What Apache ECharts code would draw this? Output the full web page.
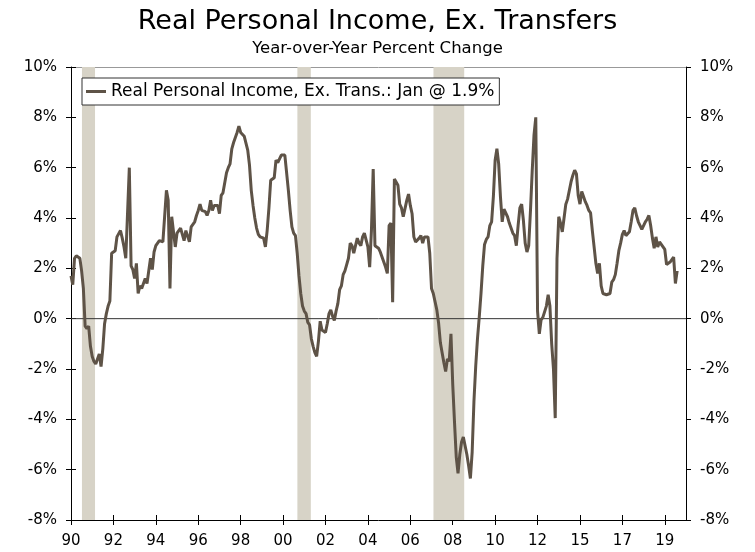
<!DOCTYPE html>
<html>
<head>
<meta charset="utf-8">
<script src="https://cdn.jsdelivr.net/npm/echarts@6/dist/echarts.min.js"></script>
<style>
html, body { margin: 0; padding: 0; background: #fff; }
#chart { width: 755px; height: 552px; }
</style>
</head>
<body>
<div id="chart"></div>
<script>
// year-over-year % change, monthly from Jan 1990
var values1990s = [
	1.7, 1.35, 2.4, 2.5, 2.45, 2.4, 1.9, 1.2, -0.3, -0.4, -0.3, -1.1,
	-1.5, -1.7, -1.8, -1.6, -1.4, -1.9, -1.2, -0.2, 0.2, 0.5, 0.7, 2.6,
	2.65, 2.7, 3.25, 3.3, 3.5, 3.2, 2.85, 2.4, 2.45, 6.0, 2.1, 1.95,
	1.6, 2.2, 1.0, 1.3, 1.2, 1.25, 1.6, 1.4, 1.35, 2.4, 1.95, 2.65,
	2.9, 3.0, 3.1, 3.1, 3.05, 3.0, 5.1, 4.7, 1.2, 4.05, 4.05, 2.85,
	3.4, 3.5, 3.6, 3.6, 3.1, 3.5, 3.45, 3.05, 3.65, 3.75, 3.85, 4.1,
	4.3, 4.55, 4.3, 4.35, 4.25, 4.1, 4.3, 4.7, 4.3, 4.5, 4.5, 4.5,
	4.17, 4.9, 5.0, 5.0, 5.8, 6.0, 6.15, 6.75, 7.0, 7.2, 7.4, 7.65,
	7.4, 7.35, 7.25, 7.2, 6.7, 6.1, 5.1, 4.5, 4.0, 3.6, 3.35, 3.25,
	3.2, 3.2, 2.85, 3.5, 4.4, 5.5, 5.55, 5.6, 6.3, 6.2, 6.15, 6.5
];
var values2000s = [
	6.55, 6.5, 5.8, 5.1, 4.3, 3.65, 3.4, 3.3, 2.6, 1.7, 1.0, 0.5,
	0.3, 0.2, -0.15, -0.25, -0.8, -1.1, -1.35, -1.5, -0.9, -0.1, -0.45, -0.5,
	-0.55, -0.2, 0.2, 0.35, 0.1, -0.07, 0.3, 0.6, 1.15, 1.3, 1.75, 1.9,
	2.15, 2.4, 3.0, 2.9, 2.6, 2.9, 3.2, 3.0, 2.9, 3.25, 3.4, 3.45,
	2.85, 2.05, 3.5, 5.95, 2.9, 2.85, 2.8, 2.65, 2.7, 2.25, 2.05, 1.8,
	3.7, 3.8, 0.65, 5.55, 5.5, 5.3, 4.55, 4.4, 4.05, 4.05, 4.7, 4.95,
	4.5, 4.17, 3.25, 3.05, 3.05, 3.2, 3.3, 3.0, 3.25, 3.2, 3.25, 2.6,
	1.2, 1.0, 0.95, 0.35, -0.17, -0.95, -1.35, -1.75, -2.1, -1.6, -1.7, -0.6,
	-2.6, -4.1, -5.5, -6.15, -5.4, -4.9, -4.7, -4.75, -5.4, -5.85, -6.35, -5.3,
	-3.3, -1.9, -0.8, 0.05, 1.0, 2.1, 2.95, 3.15, 3.25, 3.7, 3.85, 4.85
];
var values2010s = [
	6.3, 6.75, 6.15, 4.85, 3.85, 4.35, 4.3, 4.05, 3.8, 3.6, 3.4, 3.3,
	2.9, 3.7, 4.4, 4.55, 3.9, 3.0, 2.65, 2.9, 4.3, 5.9, 7.3, 8.0,
	0.3, -0.6, -0.05, 0.05, 0.1, 0.5, 0.95, 0.5, -1.0, -2.0, -3.95, 2.4,
	4.05, 3.8, 3.45, 4.0, 4.55, 4.75, 4.8, 5.45, 5.7, 5.9, 5.75, 4.9,
	4.55, 5.05, 4.85, 4.65, 4.5, 4.3, 4.2, 3.5, 2.85, 2.2, 1.8, 2.2,
	1.3, 1.0, 0.95, 0.95, 0.95, 1.0, 1.45, 1.55, 1.75, 2.2, 2.7, 3.0,
	3.35, 3.5, 3.3, 3.3, 3.45, 3.85, 4.3, 4.4, 4.1, 3.85, 3.7, 3.55,
	3.6, 3.85, 3.95, 4.1, 3.7, 3.2, 2.8, 3.25, 2.85, 3.05, 2.95, 2.85,
	2.75, 2.15, 2.15, 2.25, 2.3, 2.45, 1.4, 1.9
];
var tickLabels = ['90', '92', '94', '96', '98', '00', '02', '04', '06', '08', '10', '12', '15', '17', '19'];
// recessions, in months from Jan 1990
var recessionStart = [6.2, 128.1, 205.1];
var recessionEnd = [13.6, 135.7, 222.5];

var values = values1990s.concat(values2000s, values2010s);
var lastMonth = 348;
var seriesName = 'Real Personal Income, Ex. Trans.: Jan @ '
		+ values[values.length - 1].toFixed(1) + '%';

var lineData = values.map(function(v, i) {
	return [i, v];
});

var areas = [];
for (var i = 0; i < recessionStart.length; i++) {
	areas.push([{
				xAxis : recessionStart[i]
			}, {
				xAxis : recessionEnd[i]
			}]);
}

var font = 'DejaVu Sans, Verdana, sans-serif';
var plotRect = {
	left : 71,
	right : 69,
	top : 67,
	bottom : 32
};

// ticks in the reference cross the axis line, so each axis is drawn twice:
// once in grid 0 (line, outward ticks, labels), once in grid 1 (inward ticks)
function yAxisDef(grid, pos, inside) {
	return {
		type : 'value',
		gridIndex : grid,
		position : pos,
		min : -8,
		max : 10,
		interval : 2,
		axisLine : {
			show : !inside,
			lineStyle : {
				color : '#000',
				width : 1
			}
		},
		axisTick : {
			show : true,
			inside : inside,
			length : 5,
			lineStyle : {
				color : '#000'
			}
		},
		axisLabel : {
			show : !inside,
			margin : 14,
			fontFamily : font,
			fontSize : 15,
			color : '#000',
			formatter : '{value}%'
		},
		splitLine : {
			show : false
		}
	};
}

function xAxisDef(grid, inside) {
	return {
		type : 'value',
		gridIndex : grid,
		position : 'bottom',
		min : 0,
		max : lastMonth,
		interval : 24,
		axisLine : {
			show : !inside,
			onZero : false,
			lineStyle : {
				color : '#000',
				width : 1
			}
		},
		axisTick : {
			show : true,
			inside : inside,
			length : 5,
			lineStyle : {
				color : '#000'
			}
		},
		axisLabel : {
			show : !inside,
			margin : 14,
			fontFamily : font,
			fontSize : 15,
			color : '#000',
			showMaxLabel : false,
			formatter : function(v) {
				if (v % 24 != 0) {
					return '';
				}
				return tickLabels[v / 24] || '';
			}
		},
		splitLine : {
			show : false
		}
	};
}

var topBorder = {
	type : 'value',
	gridIndex : 1,
	position : 'top',
	min : 0,
	max : lastMonth,
	axisLine : {
		show : true,
		onZero : false,
		lineStyle : {
			color : '#999',
			width : 1
		}
	},
	axisTick : {
		show : false
	},
	axisLabel : {
		show : false
	},
	splitLine : {
		show : false
	}
};

var chart = echarts.init(document.getElementById('chart'));

var option = {
	backgroundColor : '#fff',
	animation : false,
	title : {
		text : 'Real Personal Income, Ex. Transfers',
		subtext : 'Year-over-Year Percent Change',
		left : 'center',
		top : 3,
		itemGap : 5,
		textStyle : {
			fontFamily : font,
			fontSize : 27,
			fontWeight : 'normal',
			color : '#000'
		},
		subtextStyle : {
			fontFamily : font,
			fontSize : 16.5,
			color : '#000'
		}
	},
	legend : {
		data : [seriesName],
		left : 82,
		top : 78,
		padding : [5, 5, 5, 4],
		icon : 'rect',
		itemWidth : 20,
		itemHeight : 3,
		borderColor : '#333',
		borderWidth : 1,
		backgroundColor : '#fff',
		textStyle : {
			fontFamily : font,
			fontSize : 17,
			color : '#000'
		}
	},
	grid : [plotRect, plotRect],
	xAxis : [xAxisDef(0, false), xAxisDef(1, true), topBorder],
	yAxis : [yAxisDef(0, 'left', false), yAxisDef(0, 'right', false),
			yAxisDef(1, 'left', true), yAxisDef(1, 'right', true)],
	series : [{
				name : 'zero',
				type : 'line',
				z : 2,
				silent : true,
				symbol : 'none',
				data : [[0, 0], [lastMonth, 0]],
				lineStyle : {
					color : '#333',
					width : 1
				},
				markArea : {
					silent : true,
					itemStyle : {
						color : '#d7d3c7',
						opacity : 1
					},
					data : areas
				}
			}, {
				name : seriesName,
				type : 'line',
				z : 3,
				symbol : 'none',
				data : lineData,
				lineStyle : {
					color : '#5e5347',
					width : 3
				},
				itemStyle : {
					color : '#5e5347'
				}
			}]
};

chart.setOption(option);
</script>
</body>
</html>
